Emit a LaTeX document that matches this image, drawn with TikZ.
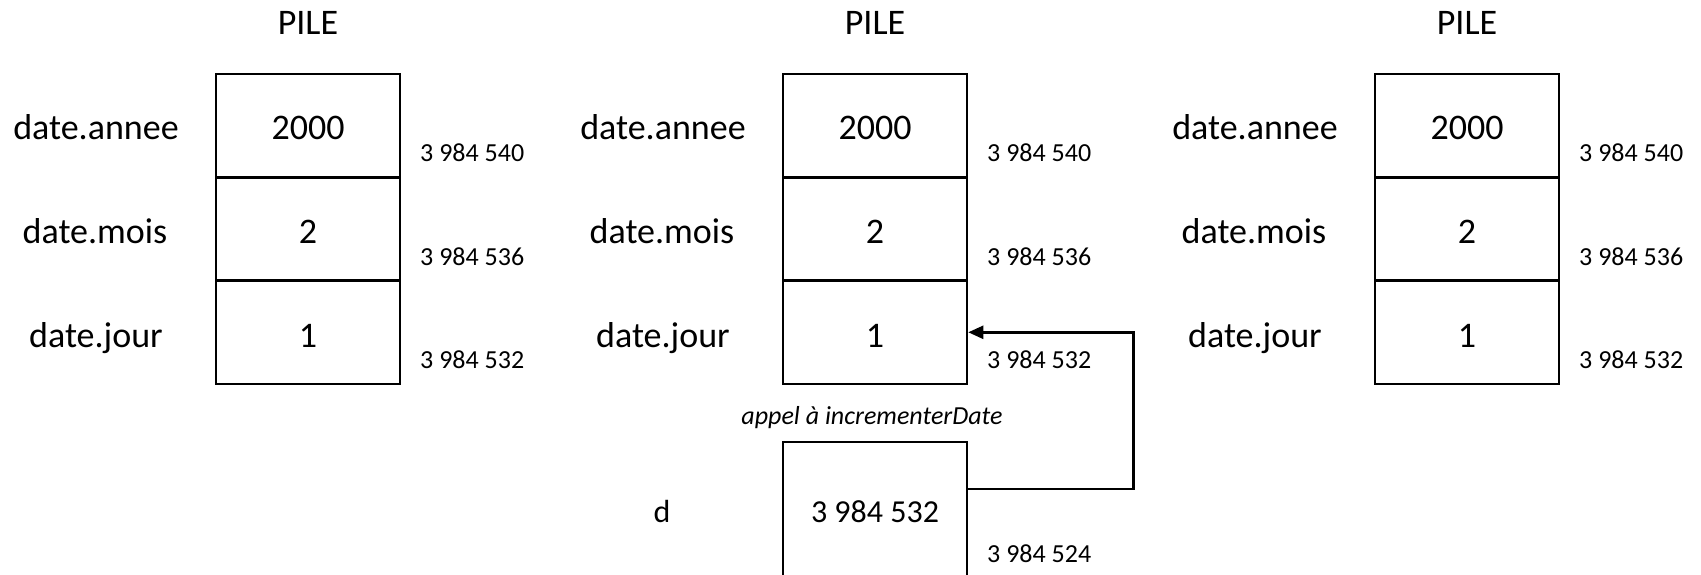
\documentclass[tikz,border=0pt]{standalone}
\usepackage{fontspec}
\setmainfont{Carlito}
\usetikzlibrary{arrows.meta}

% sizes in pixels of the drawing grid (1 unit = 1pt, y grows downwards)
\newcommand{\bigtxt}{\fontsize{36}{40}\selectfont}
\newcommand{\midtxt}{\fontsize{32}{36}\selectfont}
\newcommand{\smalltxt}{\fontsize{26}{30}\selectfont}

\tikzset{
  cell/.style={draw, line width=2.6pt, minimum width=184pt, minimum height=103.3pt, inner sep=0pt},
  membox/.style={draw, line width=2.6pt, minimum width=184pt, minimum height=180pt, inner sep=0pt},
  value/.style={anchor=base, inner sep=0pt, font=\bigtxt},
  varname/.style={anchor=base, inner sep=0pt, font=\bigtxt},
  addr/.style={anchor=base west, inner sep=0pt, font=\smalltxt},
  title/.style={anchor=base, inner sep=0pt, font=\bigtxt},
  note/.style={anchor=base, inner sep=0pt, font=\smalltxt\itshape},
  conn/.style={line width=2.4pt, -{Triangle[length=15pt,width=13pt]}},
  % one stack column; origin = top-left corner of the cell stack
  pile/.pic={
    \node[title] (-title) at (92,-39) {PILE};
    \node[cell] (-annee) at (92,51.7) {};
    \node[cell] (-mois)  at (92,155) {};
    \node[cell] (-jour)  at (92,258.3) {};
    \node[value] (-vannee) at (92,66) {2000};
    \node[value] (-vmois)  at (92,169) {2};
    \node[value] (-vjour)  at (92,273) {1};
    \node[varname] (-nannee) at (-120,66) {date.annee};
    \node[varname] (-nmois)  at (-121,169) {date.mois};
    \node[varname] (-njour)  at (-120,273) {date.jour};
    \node[addr] (-aannee) at (204,88) {3 984 540};
    \node[addr] (-amois)  at (204,191) {3 984 536};
    \node[addr] (-ajour)  at (204,294) {3 984 532};
  }
}

\begin{document}
\begin{tikzpicture}[x=1pt, y=-1pt]
  \useasboundingbox (0,0) rectangle (1701,575);
  \fill[white] (0,0) rectangle (1701,575);
  \clip (0,0) rectangle (1701,575);

  % the three stack snapshots
  \pic (l) at (216,74) {pile};
  \pic (m) at (783,74) {pile};
  \pic (r) at (1375,74) {pile};

  % parameter d pushed by the call
  \node[note] (call) at (872,424) {appel à incrementerDate};
  \node[membox] (dbox) at (875,532) {};
  \node[anchor=base, inner sep=0pt, font=\midtxt] (dval) at (875,522) {3 984 532};
  \node[anchor=base, inner sep=0pt, font=\midtxt] (dname) at (662,522) {d};
  \node[addr] (daddr) at (987,562) {3 984 524};

  % d refers to date.jour
  \draw[conn] ([yshift=43pt]dbox.east) -- ++(165,0) |- (m-jour.east);
\end{tikzpicture}
\end{document}
